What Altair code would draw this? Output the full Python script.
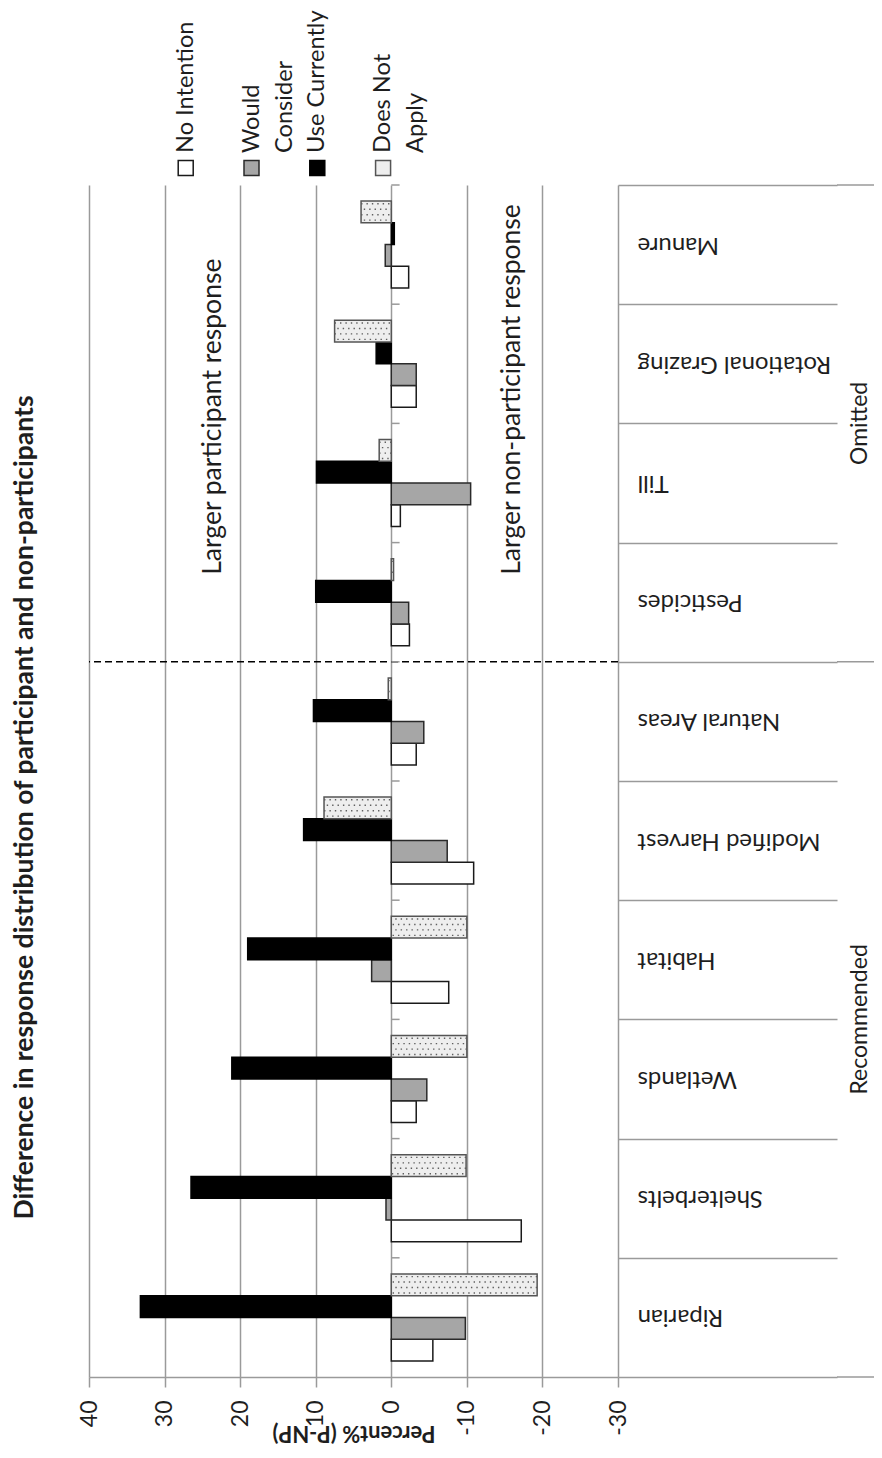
import altair as alt
import pandas as pd

# ---------------- data ----------------
categories = ["Manure", "Rotational Grazing", "Till", "Pesticides", "Natural Areas",
              "Modified Harvest", "Habitat", "Wetlands", "Shelterbelts", "Riparian"]
series = ["No Intention", "Would Consider", "Use Currently", "Does Not Apply"]
no_intention   = [-2.3, -3.3, -1.2, -2.4, -3.3, -10.9, -7.6, -3.3, -17.2, -5.5]
would_consider = [0.8, -3.3, -10.5, -2.3, -4.3, -7.4, 2.6, -4.7, 0.7, -9.8]
use_currently  = [-0.4, 2.0, 9.9, 10.0, 10.3, 11.6, 19.0, 21.1, 26.5, 33.2]
does_not_apply = [4.0, 7.5, 1.6, -0.3, 0.4, 8.9, -10.0, -10.0, -9.9, -19.3]

legend_line1 = ["No Intention", "Would", "Use Currently", "Does Not"]
legend_line2 = ["", "Consider", "", "Apply"]
groups = ["Omitted", "Recommended"]
group_centre = ["Till", "Wetlands"]
group_edges = ["Manure", "Natural Areas"]
annotations = ["Larger participant response", "Larger non-participant response"]
annotation_x = [23.6, -16.0]
annotation_cat = ["Pesticides", "Pesticides"]
x_ticks = [40, 30, 20, 10, 0, -10, -20, -30]
chart_title = "Difference in response distribution of participant and non-participants"
x_title = "Percent% (P-NP)"

# ---------------- style ----------------
FONT = "Lato"
GREY = "#9a9a9a"
TXT = "#1e1e1e"
fills = ["#ffffff", "#a6a6a6", "#000000", "#ffffff"]
strokes = ["#1a1a1a", "#2a2a2a", "#000000", "#555555"]
offset_order = ["Does Not Apply", "Use Currently", "Would Consider", "No Intention"]
PO = 0.74
W1, H = 529, 1192

vals = dict(zip(series, [no_intention, would_consider, use_currently, does_not_apply]))
df = pd.DataFrame([{"category": c, "series": s, "value": v}
                   for s in series for c, v in zip(categories, vals[s])])

dn = df[df["series"] == "Does Not Apply"]
dots = pd.DataFrame([{"category": r.category, "value": r.value,
                      "slot": f"Does Not Apply|{k}", "row": k}
                     for r in dn.itertuples() for k in range(4)])
slot_domain = (["pad0", "pad1"] + [f"{s}|{k}" for s in offset_order for k in range(4)]
               + ["pad2", "pad3"])

yscale = alt.Scale(type="band", domain=categories, paddingInner=0, paddingOuter=0)
xscale = alt.Scale(domain=[40, -30], nice=False)
fill_scale = alt.Scale(domain=series, range=fills)
stroke_scale = alt.Scale(domain=series, range=strokes)

xaxis = alt.Axis(values=x_ticks, labelExpr="'' + datum.value", labelAngle=270,
                 labelAlign="right", labelBaseline="middle", labelPadding=13,
                 labelFlush=False, labelFont=FONT, labelFontSize=23, labelColor=TXT,
                 tickSize=10, tickColor=GREY, tickWidth=1.5,
                 domainColor=GREY, domainWidth=1.5,
                 grid=True, gridColor=GREY, gridWidth=1.5,
                 title=x_title, titleAngle=180, titleY=55, titleBaseline="middle",
                 titleFont=FONT, titleFontSize=22, titleFontWeight="bold", titleColor=TXT)

left_axis = alt.Axis(orient="left", labels=False, ticks=False, domain=False, grid=False,
                     title=chart_title, titleAngle=270, titleAlign="center",
                     titleBaseline="middle", titleX=-65, titleY=622,
                     titleFont=FONT, titleFontSize=26.5, titleFontWeight="bold",
                     titleColor=TXT)

right_axis = alt.Axis(orient="right", labels=True, ticks=False, tickSize=0, domain=False,
                      grid=False, title=None, labelAngle=180, labelAlign="right",
                      labelBaseline="middle", labelPadding=19, labelFont=FONT,
                      labelFontSize=24, labelColor=TXT, labelLimit=400)

# ---------------- main panel ----------------
bars = alt.Chart(df).mark_bar(strokeWidth=1.5).encode(
    x=alt.X("value:Q", scale=xscale, axis=xaxis),
    y=alt.Y("category:N", scale=yscale, axis=left_axis),
    yOffset=alt.YOffset("series:N", sort=offset_order,
                        scale=alt.Scale(domain=offset_order, paddingInner=0, paddingOuter=PO)),
    fill=alt.Fill("series:N", scale=fill_scale, legend=None),
    stroke=alt.Stroke("series:N", scale=stroke_scale, legend=None),
)


def dot_layer(rows, offset):
    return alt.Chart(dots[dots["row"].isin(rows)]).mark_rule(
        strokeDash=[1.4, 4.0], strokeDashOffset=offset, strokeWidth=1.4, color="#5f5f5f"
    ).encode(
        x=alt.X("value:Q", scale=xscale),
        x2=alt.X2Datum(0),
        y=alt.Y("category:N", scale=yscale, axis=None),
        yOffset=alt.YOffset("slot:N", scale=alt.Scale(domain=slot_domain, paddingInner=0,
                                                        paddingOuter=PO * 4 - 2)),
    )


dots_a = dot_layer([0, 2], 0)
dots_b = dot_layer([1, 3], 2.7)

dashed = alt.Chart(pd.DataFrame({"category": [group_edges[1]]})).mark_rule(
    strokeDash=[7, 4], strokeWidth=1.6, color="#000000"
).encode(y=alt.Y("category:N", bandPosition=0, scale=yscale, axis=None))

ann = alt.Chart(pd.DataFrame({"text": annotations, "value": annotation_x,
                              "category": annotation_cat})).mark_text(
    angle=270, align="left", baseline="middle", font=FONT, fontSize=26.5, color=TXT
).encode(
    x=alt.X("value:Q", scale=xscale),
    y=alt.Y("category:N", bandPosition=0.27, scale=yscale, axis=None),
    text="text:N",
)

bticks = alt.Chart(pd.DataFrame({"category": categories})).mark_rule(
    color=GREY, strokeWidth=1.5
).encode(
    y=alt.Y("category:N", bandPosition=0, scale=yscale, axis=right_axis),
    x=alt.XDatum(0),
    x2=alt.X2Datum(-1.1),
)

main = alt.layer(bars, dots_a, dots_b, dashed, ann, bticks).resolve_scale(
    yOffset="independent").properties(width=W1, height=H)

# ---------------- category separators ----------------
sep = alt.Chart(pd.DataFrame({"category": categories})).mark_rect(opacity=0).encode(
    y=alt.Y("category:N", scale=yscale,
            axis=alt.Axis(grid=True, tickBand="extent", labels=False, ticks=False,
                          domain=False, title=None, gridColor=GREY, gridWidth=1.5))
).properties(width=219, height=H)

# ---------------- group column ----------------
edges = alt.Chart(pd.DataFrame({"category": group_edges})).mark_rule(
    color=GREY, strokeWidth=1.5
).encode(y=alt.Y("category:N", bandPosition=0, scale=yscale, axis=None))
bottom = alt.Chart(pd.DataFrame({"category": [categories[-1]]})).mark_rule(
    color=GREY, strokeWidth=1.5
).encode(y=alt.Y("category:N", bandPosition=1, scale=yscale, axis=None))
gtext = alt.Chart(pd.DataFrame({"group": groups, "anchor": group_centre})).mark_text(
    angle=270, align="center", baseline="middle", font=FONT, fontSize=23, color=TXT, dy=0
).encode(y=alt.Y("anchor:N", bandPosition=0, scale=yscale, axis=None), text="group:N")
grp = alt.layer(edges, bottom, gtext).properties(width=45, height=H)

# ---------------- legend ----------------
leg_df = pd.DataFrame({"series": series, "line1": legend_line1, "line2": legend_line2})
lx = alt.X("series:N", scale=alt.Scale(type="point", domain=["pad"] + series, padding=0.47),
           axis=None)
sq = alt.Chart(leg_df).mark_square(size=225, strokeWidth=1.5, opacity=1).encode(
    x=lx,
    fill=alt.Fill("series:N", scale=alt.Scale(domain=series,
                                              range=["#ffffff", "#a6a6a6", "#000000", "#eeeeee"]),
                  legend=None),
    stroke=alt.Stroke("series:N", scale=stroke_scale, legend=None),
)
t1 = alt.Chart(leg_df).mark_text(angle=270, align="left", baseline="middle", dx=15,
                                 font=FONT, fontSize=23.6, color=TXT).encode(x=lx, text="line1:N")
t2 = alt.Chart(leg_df).mark_text(angle=270, align="left", baseline="middle", dx=15, dy=33,
                                 font=FONT, fontSize=23.6, color=TXT).encode(x=lx, text="line2:N")
legend = alt.layer(sq, t1, t2).properties(width=325, height=34)

blank1 = alt.Chart(pd.DataFrame({"a": [0]})).mark_point(opacity=0).properties(width=219, height=34)
blank2 = alt.Chart(pd.DataFrame({"a": [0]})).mark_point(opacity=0).properties(width=45, height=34)

chart = alt.concat(legend, blank1, blank2, main, sep, grp, columns=3, spacing=0,
                   bounds="flush").properties(
    autosize=alt.AutoSizeParams(type="none"),
    padding={"left": 81, "top": 143, "right": 785, "bottom": 1295},
).configure_view(strokeWidth=0)

chart.save("out.html", embed_options={"renderer": "svg", "actions": False})
